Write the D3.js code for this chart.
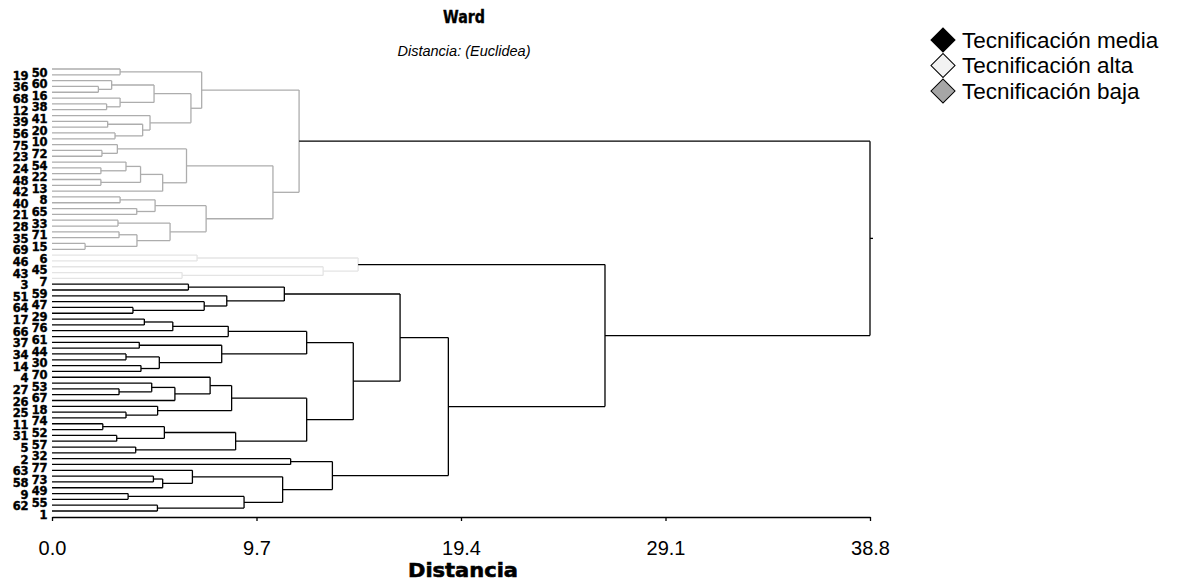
<!DOCTYPE html>
<html>
<head>
<meta charset="utf-8">
<script src="https://cdn.jsdelivr.net/npm/d3@7/dist/d3.min.js"></script>
<style>
  body { margin: 0; background: #fff; }
  svg { display: block; }
</style>
</head>
<body>
<div id="chart"></div>
<script>
// Leaves, top to bottom, as drawn in the dendrogram
const leafLabels = [
  "50","19","60","36","16","68","38","12","41","39","20","56","10","75","72","23",
  "54","24","22","48","13","42","8","40","65","21","33","28","71","35","15","69",
  "6","46","45","43","7",
  "3","59","51","47","64","29","17","76","66","61","37","44","34","30","14","70",
  "4","53","27","67","26","18","25","74","11","52","31","57","5","32","2","77",
  "63","73","58","49","9","55","62","1"
]

// group of each leaf (b = baja, a = alta, m = media)
const leafGroups = [
  "b","b","b","b","b","b","b","b","b","b","b","b","b","b","b","b",
  "b","b","b","b","b","b","b","b","b","b","b","b","b","b","b","b",
  "a","a","a","a","a",
  "m","m","m","m","m","m","m","m","m","m","m","m","m","m","m","m",
  "m","m","m","m","m","m","m","m","m","m","m","m","m","m","m","m",
  "m","m","m","m","m","m","m","m"
]

// merges: [childA, childB, distance]; ids < 77 are leaves, 77 + k is merge k
const merges = [
  [3, 4, 2.20], [2, 77, 2.83], [6, 7, 2.59], [5, 79, 3.23], [78, 80, 4.84],
  [9, 10, 2.64], [11, 12, 2.99], [82, 83, 4.30], [8, 84, 4.65], [81, 85, 6.59],
  [0, 1, 3.23], [87, 86, 7.10],
  [14, 15, 2.37], [13, 89, 3.10], [17, 18, 2.32], [16, 91, 3.51], [19, 20, 2.32],
  [92, 93, 4.20], [94, 21, 5.25], [90, 95, 6.38],
  [22, 23, 3.23], [24, 25, 4.02], [97, 98, 4.89], [26, 27, 3.13], [28, 29, 3.18],
  [30, 31, 1.57], [101, 102, 4.03], [100, 103, 5.60], [99, 104, 7.31],
  [96, 105, 10.48], [88, 106, 11.72],
  [32, 33, 6.88], [35, 36, 6.17], [34, 109, 12.86], [108, 110, 14.52],
  [37, 38, 6.47], [41, 42, 3.84], [40, 113, 7.22], [39, 114, 8.29], [112, 115, 11.02],
  [43, 44, 4.38], [117, 45, 5.73], [118, 46, 8.36], [47, 48, 4.14], [49, 50, 3.51],
  [51, 52, 4.22], [121, 122, 5.09], [120, 123, 8.05], [119, 124, 12.08],
  [55, 56, 3.18], [54, 126, 4.73], [127, 57, 5.83], [53, 128, 7.50], [59, 60, 3.51],
  [58, 130, 5.01], [129, 131, 8.52], [61, 62, 2.41], [63, 64, 3.07], [133, 134, 5.33],
  [65, 66, 3.97], [135, 136, 8.71], [132, 137, 12.08], [125, 138, 14.29],
  [116, 139, 16.51],
  [67, 68, 11.32], [70, 71, 4.81], [142, 72, 5.25], [69, 143, 6.66], [73, 74, 3.61],
  [75, 76, 5.00], [145, 146, 9.11], [144, 147, 10.94], [141, 148, 13.30],
  [140, 149, 18.80],
  [111, 150, 26.23],
  [107, 151, 38.80]
]

const tickValues = [0.0, 9.7, 19.4, 29.1, 38.8]

const legendItems = [
  { label: "Tecnificación media", key: "m" },
  { label: "Tecnificación alta", key: "a" },
  { label: "Tecnificación baja", key: "b" }
]

const GROUP_STROKE = { m: "#000000", a: "#e4e4e4", b: "#adadad", x: "#000000" }
const GROUP_FILL = { m: "#000000", a: "#f2f2f2", b: "#a6a6a6" }

const width = 1186
const height = 583

const svg = d3.select("#chart").append("svg")
  .attr("width", width)
  .attr("height", height)

const x = d3.scaleLinear().domain([0, 38.8]).range([52, 870])
const y = d3.scalePoint().domain(d3.range(leafLabels.length)).range([69, 511])

// build nodes
const nodes = leafLabels.map((lab, i) => ({ id: i, h: 0, y: y(i), group: leafGroups[i] }))
merges.forEach(([a, b, h], k) => {
  const na = nodes[a], nb = nodes[b]
  nodes.push({
    id: leafLabels.length + k, a: na, b: nb, h,
    y: (na.y + nb.y) / 2,
    group: na.group === nb.group ? na.group : "x"
  })
})

const links = svg.append("g").attr("fill", "none").attr("stroke-width", 1.3)

nodes.filter(n => n.a).forEach(n => {
  const col = GROUP_STROKE[n.group]
  const xn = x(n.h)
  links.append("line")
    .attr("x1", xn).attr("x2", xn)
    .attr("y1", n.a.y).attr("y2", n.b.y)
    .attr("stroke", col)
  ;[n.a, n.b].forEach(c => {
    links.append("line")
      .attr("x1", x(c.h)).attr("x2", xn)
      .attr("y1", c.y).attr("y2", c.y)
      .attr("stroke", col)
  })
})

// small stub from the root
const root = nodes[nodes.length - 1]
links.append("line")
  .attr("x1", x(root.h)).attr("x2", x(root.h) + 3)
  .attr("y1", root.y).attr("y2", root.y)
  .attr("stroke", "#000")

// leaf labels, two staggered columns
svg.append("g")
  .selectAll("text")
  .data(leafLabels)
  .enter().append("text")
  .attr("x", (d, i) => i % 2 === 0 ? 47 : 28)
  .attr("y", (d, i) => y(i) + (i % 2 === 0 ? 7.5 : 5))
  .attr("text-anchor", "end")
  .attr("font-family", "DejaVu Sans, sans-serif")
  .attr("font-weight", "bold")
  .attr("font-size", 11.5)
  .attr("letter-spacing", -0.4)
  .attr("fill", "#000")
  .attr("stroke", "#000").attr("stroke-width", 0.4)
  .text(d => d)

// x axis
const axis = svg.append("g")
  .attr("transform", `translate(0,517)`)
  .call(d3.axisBottom(x).tickValues(tickValues).tickFormat(d3.format(".1f")).tickSize(4).tickSizeOuter(0))

axis.select(".domain").attr("stroke", "#000").attr("stroke-width", 1.3)
axis.selectAll(".tick line").attr("stroke", "#000").attr("stroke-width", 1.3)
axis.selectAll(".tick text")
  .attr("y", 24)
  .attr("dy", "0.71em")
  .attr("fill", "#000")
  .attr("font-family", "Liberation Sans, Arial, sans-serif")
  .attr("font-size", 20)

// titles
svg.append("text")
  .attr("x", 464).attr("y", 23)
  .attr("text-anchor", "middle")
  .attr("font-family", "DejaVu Sans, sans-serif")
  .attr("font-weight", "bold")
  .attr("font-size", 18)
  .attr("stroke", "#000").attr("stroke-width", 0.4)
  .attr("textLength", 42).attr("lengthAdjust", "spacingAndGlyphs")
  .text("Ward")

svg.append("text")
  .attr("x", 464).attr("y", 56)
  .attr("text-anchor", "middle")
  .attr("font-family", "Liberation Sans, Arial, sans-serif")
  .attr("font-style", "italic")
  .attr("font-size", 14.5)
  .text("Distancia: (Euclidea)")

svg.append("text")
  .attr("x", 463).attr("y", 577)
  .attr("text-anchor", "middle")
  .attr("font-family", "DejaVu Sans, sans-serif")
  .attr("font-weight", "bold")
  .attr("font-size", 20)
  .attr("stroke", "#000").attr("stroke-width", 0.6)
  .attr("textLength", 110).attr("lengthAdjust", "spacingAndGlyphs")
  .text("Distancia")

// legend
const legend = svg.append("g").attr("transform", "translate(943, 40)")
legendItems.forEach((item, i) => {
  const lg = legend.append("g").attr("transform", `translate(0, ${i * 25.5})`)
  lg.append("path")
    .attr("d", d3.symbol().type(d3.symbolSquare).size(290)())
    .attr("transform", "rotate(45)")
    .attr("fill", GROUP_FILL[item.key])
    .attr("stroke", "#000")
    .attr("stroke-width", 1)
  lg.append("text")
    .attr("x", 19).attr("y", 0).attr("dy", "0.35em")
    .attr("font-family", "Liberation Sans, Arial, sans-serif")
    .attr("font-size", 22.5)
    .attr("fill", "#000")
    .text(item.label)
})
</script>
</body>
</html>
